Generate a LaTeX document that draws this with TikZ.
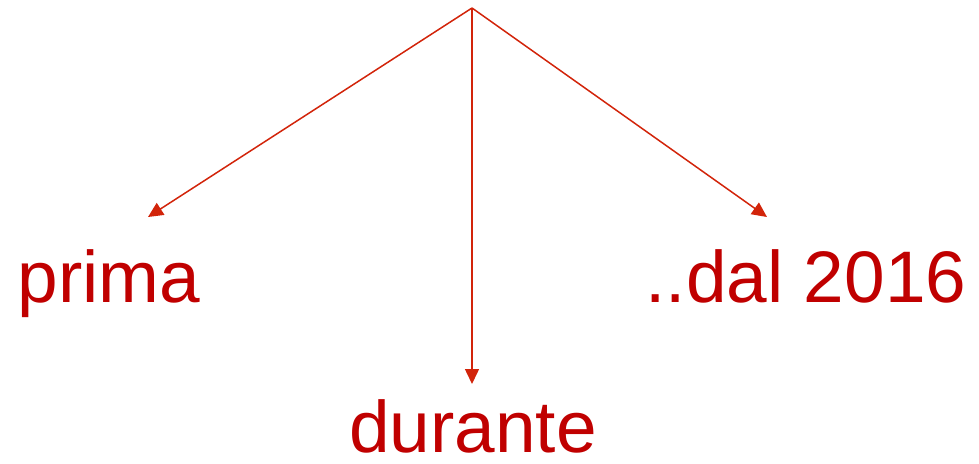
\documentclass[tikz,border=0pt]{standalone}
\usepackage{fontspec}
\setmainfont{Liberation Sans}
\usetikzlibrary{arrows.meta}
\definecolor{txtred}{RGB}{192,0,0}
\definecolor{linered}{RGB}{210,36,10}
\tikzset{
  lbl/.style={text=txtred, font=\fontsize{73}{78}\selectfont, anchor=base, inner sep=0pt},
  conn/.style={draw=linered, line width=1.5pt, -{Triangle[length=15pt,width=14pt]}}
}
\begin{document}
\begin{tikzpicture}[x=1pt,y=-1pt]
\useasboundingbox (0,0) rectangle (979,463);
\coordinate (top) at (472,8);
\coordinate (t1) at (148,217);
\coordinate (t2) at (472,384);
\coordinate (t3) at (767,217);
\node[lbl] (prima) at (109,302) {prima};
\node[lbl, text depth=0pt] (durante) at (473,452) {durante};
\node[lbl] (dal) at (806,302) {..dal 2016};
\draw[conn] (top) -- (t1);
\draw[conn] (top) -- (t2);
\draw[conn] (top) -- (t3);
\end{tikzpicture}
\end{document}
